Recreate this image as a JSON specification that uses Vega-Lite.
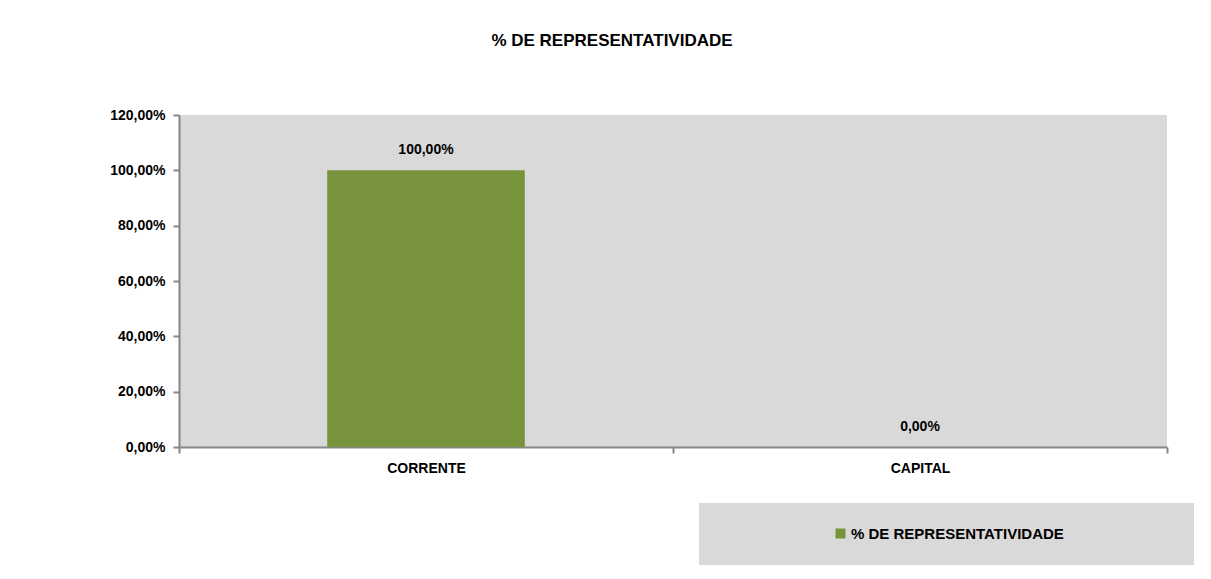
{
  "$schema": "https://vega.github.io/schema/vega-lite/v6.json",
  "width": 988,
  "height": 332,
  "padding": {"left": 109, "top": 32, "right": 5, "bottom": 5},
  "autosize": {"type": "pad"},
  "background": "white",
  "config": {
    "locale": {"number": {"decimal": ",", "thousands": ".", "grouping": [3], "currency": ["R$ ", ""]}},
    "view": {"fill": "#d9d9d9", "stroke": null},
    "font": "Liberation Sans"
  },
  "title": {
    "text": "% DE REPRESENTATIVIDADE",
    "fontSize": 17,
    "fontWeight": "bold",
    "font": "Liberation Sans",
    "color": "black",
    "offset": 58,
    "dx": -61
  },
  "data": {
    "values": [
      {"categoria": "CORRENTE", "valor": 1.0, "serie": "% DE REPRESENTATIVIDADE"},
      {"categoria": "CAPITAL", "valor": 0.0, "serie": "% DE REPRESENTATIVIDADE"}
    ]
  },
  "encoding": {
    "x": {
      "field": "categoria",
      "type": "nominal",
      "sort": null,
      "scale": {"paddingInner": 0, "paddingOuter": 0},
      "axis": {
        "title": null,
        "labelAngle": 0,
        "tickBand": "extent",
        "domainColor": "#868686",
        "domainWidth": 2,
        "tickColor": "#868686",
        "tickWidth": 2,
        "tickSize": 6,
        "labelFontSize": 14,
        "labelFontWeight": "bold",
        "labelColor": "black",
        "labelFont": "Liberation Sans",
        "labelPadding": 8
      }
    },
    "y": {
      "field": "valor",
      "type": "quantitative",
      "scale": {"domain": [0, 1.2], "nice": false},
      "axis": {
        "title": null,
        "format": ".2%",
        "values": [0, 0.2, 0.4, 0.6, 0.8, 1.0, 1.2],
        "grid": false,
        "domainColor": "#868686",
        "domainWidth": 2,
        "tickColor": "#868686",
        "tickWidth": 2,
        "tickSize": 6,
        "labelFontSize": 14,
        "labelFontWeight": "bold",
        "labelColor": "black",
        "labelFont": "Liberation Sans",
        "labelPadding": 8
      }
    }
  },
  "layer": [
    {
      "mark": {"type": "bar", "width": {"band": 0.4}},
      "encoding": {
        "color": {
          "field": "serie",
          "type": "nominal",
          "scale": {"range": ["#77933c"]},
          "legend": {
            "orient": "none",
            "legendX": 520,
            "legendY": 388,
            "title": " ",
            "titleOrient": "right",
            "titlePadding": 107,
            "fillColor": "#d9d9d9",
            "padding": 23,
            "symbolOffset": 111,
            "labelFontSize": 15,
            "labelFontWeight": "bold",
            "labelColor": "black",
            "labelFont": "Liberation Sans",
            "labelLimit": 400,
            "symbolType": "square",
            "symbolSize": 100,
            "symbolStrokeWidth": 0,
            "labelOffset": 3
          }
        }
      }
    },
    {
      "mark": {"type": "text", "dy": -20, "fontWeight": "bold", "fontSize": 14, "font": "Liberation Sans", "color": "black"},
      "encoding": {"text": {"field": "valor", "type": "quantitative", "format": ".2%"}}
    }
  ]
}
